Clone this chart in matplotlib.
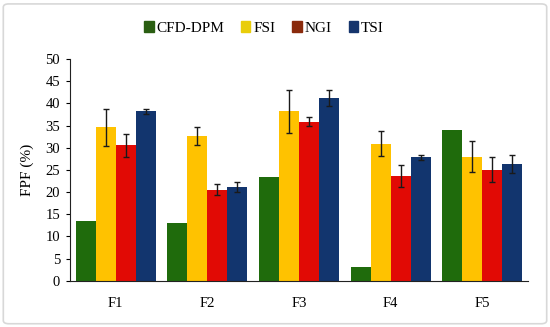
import numpy as np
import matplotlib.pyplot as plt
from matplotlib.patches import FancyBboxPatch, Patch

# datos
categorias = ['F1', 'F2', 'F3', 'F4', 'F5']
series = ['CFD-DPM', 'FSI', 'NGI', 'TSI']
cfd = [13.5, 13.1, 23.3, 3.1, 34.0]
fsi = [34.6, 32.6, 38.2, 30.9, 28.0]
ngi = [30.5, 20.5, 35.9, 23.6, 25.0]
tsi = [38.2, 21.2, 41.3, 27.8, 26.3]
err_cfd = [0, 0, 0, 0, 0]
err_fsi = [4.2, 2.0, 4.8, 2.8, 3.5]
err_ngi = [2.5, 1.2, 1.0, 2.4, 2.8]
err_tsi = [0.6, 1.1, 1.8, 0.6, 2.1]

colores = ['#1f6b0c', '#ffc200', '#e10a05', '#12356e']
colores_leyenda = ['#2a5e12', '#e9cd0a', '#8a2a0c', '#15346c']

plt.rcParams['font.family'] = ['Liberation Serif', 'DejaVu Serif']

fig = plt.figure(figsize=(5.5, 3.27), dpi=100)
ax = fig.add_axes([0.127, 0.1416, 0.833, 0.678])

# marco gris de la figura
fig.patches.append(FancyBboxPatch((0.006, 0.01), 0.988, 0.978, boxstyle='round,pad=0,rounding_size=0.01',
                                  transform=fig.transFigure, fill=False, edgecolor='#d8d8d8', lw=1.2))

x = np.arange(len(categorias))
w = 0.218
valores = [cfd, fsi, ngi, tsi]
errores = [err_cfd, err_fsi, err_ngi, err_tsi]
for i in range(4):
    pos = x + (i - 1.5) * w
    ax.bar(pos, valores[i], w, color=colores[i], linewidth=0, zorder=2)
    if i > 0:
        ax.errorbar(pos, valores[i], yerr=errores[i], fmt='none', ecolor='#1a1a1a',
                    elinewidth=1, capsize=2.5, capthick=1, zorder=3)

ax.set_xlim(-0.5, 4.5)
ax.set_ylim(0, 50)
ax.set_yticks(range(0, 51, 5))
ax.set_xticks(x)
ax.set_xticklabels(categorias, fontsize=10.5)
ax.tick_params(axis='x', length=0, pad=12)
ax.tick_params(axis='y', labelsize=10.5, length=3, direction='out', pad=4)
ax.spines['top'].set_visible(False)
ax.spines['right'].set_visible(False)
ax.spines['left'].set_color('#222222')
ax.spines['bottom'].set_color('#222222')
ax.set_ylabel('FPF (%)', fontsize=11, labelpad=8)

handles = [Patch(color=c) for c in colores_leyenda]
fig.legend(handles, series, loc='center', bbox_to_anchor=(0.48, 0.915), ncol=4, frameon=False,
           fontsize=11, handlelength=0.6, handleheight=0.7, handletextpad=0.2, columnspacing=1.1)

fig.savefig('out.png', dpi=100)
